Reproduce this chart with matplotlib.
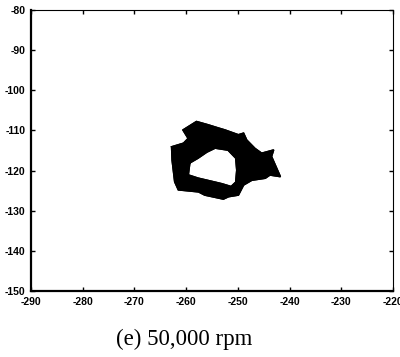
import matplotlib
matplotlib.use("Agg")
import matplotlib.pyplot as plt
from matplotlib.path import Path
from matplotlib.patches import PathPatch

# Orbit band outer boundary (x, y)
outer_x = [-262.8, -260.5, -259.6, -260.6, -258.0, -255.8, -253.8, -252.5, -249.9,
           -248.9, -248.3, -246.7, -245.4, -243.1, -243.5, -241.8, -243.8, -244.7,
           -247.3, -248.9, -249.9, -251.8, -252.8, -256.4, -257.6, -261.5, -262.2,
           -262.7]
outer_y = [-114.1, -113.2, -112.0, -109.9, -107.8, -108.6, -109.4, -109.9, -111.1,
           -110.7, -112.4, -114.5, -115.7, -114.9, -116.5, -121.5, -121.1, -121.9,
           -122.4, -123.6, -126.1, -126.5, -127.1, -126.1, -125.3, -124.8, -122.8,
           -117.4]
# Inner hole boundary
inner_x = [-259.3, -257.7, -256.0, -254.4, -251.9, -250.4, -250.2, -250.4, -251.3,
           -253.1, -254.4, -257.7, -259.6]
inner_y = [-118.1, -116.9, -115.4, -114.4, -114.9, -116.9, -119.9, -122.9, -124.0,
           -123.3, -122.9, -121.9, -121.1]

xticks = [-290, -280, -270, -260, -250, -240, -230, -220]
yticks = [-80, -90, -100, -110, -120, -130, -140, -150]
caption = "(e) 50,000 rpm"

fig = plt.figure(figsize=(4.0, 3.57), dpi=100)
ax = fig.add_axes([0.0775, 0.185, 0.905, 0.787])

ox = list(outer_x); oy = list(outer_y)
ix = list(inner_x)[::-1]; iy = list(inner_y)[::-1]
verts = list(zip(ox, oy)) + [(ox[0], oy[0])] + list(zip(ix, iy)) + [(ix[0], iy[0])]
codes = ([Path.MOVETO] + [Path.LINETO] * (len(ox) - 1) + [Path.CLOSEPOLY]
         + [Path.MOVETO] + [Path.LINETO] * (len(ix) - 1) + [Path.CLOSEPOLY])
ax.add_patch(PathPatch(Path(verts, codes), facecolor="black", edgecolor="black", lw=1.2))
ax.plot(ox + [ox[0]], oy + [oy[0]], color="black", lw=1.2)
ax.plot(list(inner_x) + [inner_x[0]], list(inner_y) + [inner_y[0]], color="black", lw=1.2)

ax.set_xlim(-290, -220)
ax.set_ylim(-150, -80)
ax.set_xticks(xticks)
ax.set_yticks(yticks)
ax.set_xticklabels([str(v) for v in xticks])
ax.set_yticklabels([str(v) for v in yticks])
ax.tick_params(direction="in", length=3, width=1, top=True, right=True,
               labelsize=7.5, pad=4)
for lab in ax.get_xticklabels() + ax.get_yticklabels():
    lab.set_fontweight("bold")
    lab.set_family("Liberation Sans")
ax.spines["left"].set_linewidth(1.6)
ax.spines["bottom"].set_linewidth(1.6)
ax.spines["top"].set_linewidth(0.8)
ax.spines["right"].set_linewidth(0.8)

fig.text(0.46, 0.048, caption, ha="center", va="center", fontsize=16.5,
         family="Liberation Serif")

fig.savefig("out.png", dpi=100)
